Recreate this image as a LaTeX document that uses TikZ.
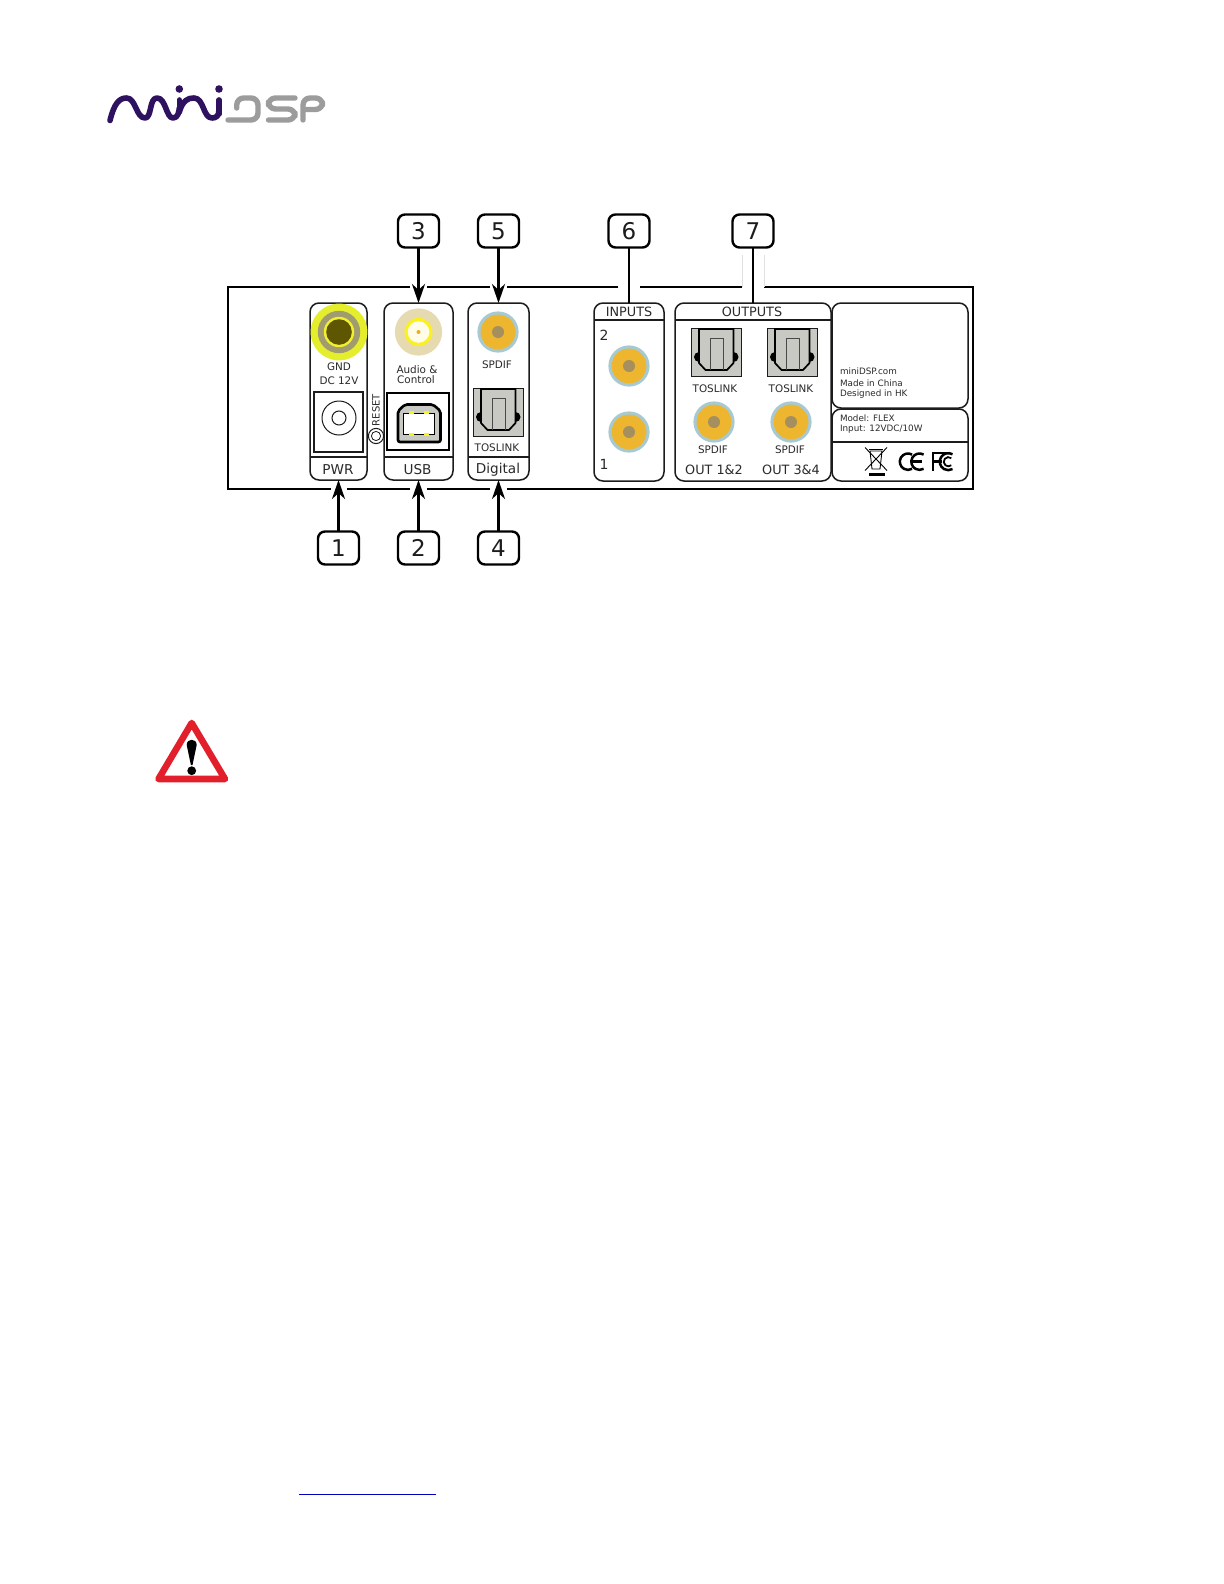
\documentclass[tikz,border=0pt]{standalone}
\usepackage{fontspec}
\setmainfont{DejaVu Sans}
\usetikzlibrary{arrows.meta}
\definecolor{ink}{HTML}{1C1C1C}
\definecolor{labelink}{HTML}{2A2A2A}
\definecolor{jackblue}{HTML}{A6C9D2}
\definecolor{jackorange}{HTML}{EEB52E}
\definecolor{jackcore}{HTML}{A58F5F}
\definecolor{tosgray}{HTML}{C9C9C3}
\definecolor{logopurple}{HTML}{2E1260}
\definecolor{logogray}{HTML}{9C9C9C}
\definecolor{warnred}{HTML}{E2202C}
\definecolor{gndlime}{HTML}{E4EE2C}
\definecolor{gndgray}{HTML}{A19C70}
\definecolor{gndring}{HTML}{F0F030}
\definecolor{gnddark}{HTML}{5E5600}
\definecolor{avbeige}{HTML}{E6DAB0}
\definecolor{avyellow}{HTML}{FBF020}
\definecolor{avwhite}{HTML}{FFFDE8}
\definecolor{avdot}{HTML}{E8B020}
\tikzset{
  panel/.style={draw=ink,line width=.75pt,rounded corners=4.5pt,inner sep=0pt,outer sep=0pt},
  numbox/.style={draw=black,line width=1.2pt,rounded corners=3.5pt,fill=white,minimum width=20.5pt,minimum height=16.5pt,inner sep=0pt,outer sep=0pt,font=\fontsize{11.5}{12}\selectfont,text=ink},
  arrowline/.style={draw=black,line width=1.35pt,-{Stealth[length=9.5pt,width=6.5pt,inset=3pt]}},
  plainline/.style={draw=black,line width=1.35pt},
  frameline/.style={draw=black,line width=1.1pt},
  thinline/.style={draw=ink,line width=.7pt},
  t/.style={inner sep=0pt,outer sep=0pt,text=labelink},
  tsmall/.style={t,font=\fontsize{5.2}{6}\selectfont},
  tpanel/.style={t,font=\fontsize{6.8}{7}\selectfont},
  thead/.style={t,font=\fontsize{6.4}{7}\selectfont},
  tinfo/.style={t,anchor=west,font=\fontsize{4.4}{5}\selectfont},
  logow/.style={draw=logopurple,line width=2.8pt,line cap=round,line join=round},
  logod/.style={draw=logogray,line width=2.7pt,line cap=round,line join=round,rounded corners=3.5pt},
  marks/.style={draw=black,line width=1.25pt}
}
\newcommand{\spdifjack}[2]{%
  \fill[jackblue] (#1,#2) circle[radius=10.3pt];
  \fill[jackorange] (#1,#2) circle[radius=8.7pt];
  \fill[jackcore] (#1,#2) circle[radius=3pt];
}
\newcommand{\toslink}[2]{%
  \begin{scope}[shift={(#1,#2)}]
    \fill[tosgray] (0,0) rectangle (50,48);
    \draw[draw=ink,line width=.4pt] (0,0) rectangle (50,48);
    \fill[black] (8,29) circle[radius=2.5pt];
    \fill[black] (42.5,29) circle[radius=2.5pt];
    \draw[draw=black,line width=.85pt,fill=tosgray] (8,1) -- (8,35) -- (14.5,42) -- (36,42) -- (42.5,35) -- (42.5,1) -- cycle;
    \draw[draw=ink!80,line width=.3pt] (19,42) -- (19,10) -- (32,10) -- (32,42);
  \end{scope}
}
\begin{document}
\begin{tikzpicture}[x=.5pt,y=-.5pt]
\useasboundingbox (0,0) rectangle (1224,1584);
\fill[white] (0,0) rectangle (1224,1584);

% ---------- logo
\draw[logow] (110,120.5) .. controls (114,104) and (119,98) .. (126.5,98)
  .. controls (136,98) and (136,118) .. (145,118)
  .. controls (152,118) and (149,98) .. (157,98)
  .. controls (166,98) and (166,118) .. (173,118)
  .. controls (178,118) and (179,112) .. (179.3,108);
\draw[logow] (179.3,100) -- (179.3,112);
\draw[logow] (179.3,112) .. controls (183,100) and (188,98) .. (194,98)
  .. controls (204,98) and (203,118) .. (212,118)
  .. controls (216,118) and (219,116) .. (219,110);
\draw[logow] (219,100) -- (219,114);
\fill[logopurple] (179.3,89) circle[radius=1.9pt];
\fill[logopurple] (219,89) circle[radius=1.9pt];
\draw[logod] (236.7,108) -- (236.7,98) -- (258,98) -- (258,120) -- (228,120);
\draw[logod] (295,98) -- (268.5,98) -- (268.5,109) -- (295,109) -- (295,120) -- (268.5,120);
\draw[logod] (303,120) -- (303,98) -- (322.5,98) -- (322.5,109.5) -- (303,109.5);

% ---------- panels
\node[panel,minimum width=28.5pt,minimum height=88.5pt] (pwr) at (338.5,391.5) {};
\node[panel,minimum width=34.5pt,minimum height=88.5pt] (usb) at (418.5,391.5) {};
\node[panel,minimum width=30.5pt,minimum height=88.5pt] (dig) at (498.5,391.5) {};
\node[panel,minimum width=35pt,minimum height=89pt] (inputs) at (629,392) {};
\node[panel,minimum width=78pt,minimum height=89pt] (outputs) at (753,392) {};
\node[panel,minimum width=68pt,minimum height=52.5pt] (rating) at (900,355.5) {};
\node[panel,minimum width=68pt,minimum height=36pt] (model) at (900,445) {};

% dividers
\draw[thinline] (310,457) -- (367,457);
\draw[thinline] (384,457) -- (453,457);
\draw[thinline] (468,457) -- (529,457);
\draw[thinline] (594,320) -- (664,320);
\draw[thinline] (675,320) -- (831,320);
\draw[thinline] (832,442) -- (968,442);

% ---------- frame with gaps
\draw[frameline,line join=miter] (410,287) -- (228,287) -- (228,489) -- (331,489);
\draw[frameline] (347,489) -- (410,489);
\draw[frameline] (427,489) -- (490,489);
\draw[frameline,line join=miter] (507,489) -- (973,489) -- (973,287) -- (764,287);
\draw[frameline] (742,287) -- (640,287);
\draw[frameline] (618,287) -- (507,287);
\draw[frameline] (427,287) -- (490,287);
\draw[draw=black!12,line width=.5pt] (742,255) -- (742,287);
\draw[draw=black!12,line width=.5pt] (764,255) -- (764,287);

% ---------- PWR
\fill[gndlime] (339,332) circle[radius=14.2pt];
\fill[gndgray] (339,332) circle[radius=10.6pt];
\fill[gndring] (339,332) circle[radius=7.6pt];
\fill[gnddark] (339,332) circle[radius=6.4pt];
\node[tsmall] (gnd) at (339,367) {GND};
\node[tsmall] (dc) at (339,381) {DC 12V};
\draw[draw=ink,line width=.6pt] (314,392) rectangle (363,452);
\draw[draw=ink,line width=.5pt] (339,418) circle[radius=8.5pt];
\draw[draw=ink,line width=.5pt] (339,418) circle[radius=3.5pt];
\node[tpanel] (pwrt) at (338,470) {PWR};

% RESET
\node[t,rotate=90,font=\fontsize{5}{6}\selectfont] (reset) at (376,410) {RESET};
\draw[draw=ink,line width=.5pt,fill=white] (376,436) circle[radius=3.8pt];
\draw[draw=ink,line width=.4pt] (376,436) circle[radius=2.3pt];

% ---------- USB
\fill[avbeige] (418.5,332) circle[radius=11.8pt];
\fill[avyellow] (418.5,332) circle[radius=7pt];
\fill[avwhite] (418.5,332) circle[radius=5.4pt];
\fill[avdot] (418.5,332) circle[radius=1pt];
\node[tsmall] (audio) at (417,370) {Audio \&};
\node[tsmall] (control) at (416,380) {Control};
\draw[draw=black,line width=.8pt] (387,393) rectangle (449,450);
\draw[draw=black,line width=1.3pt,fill=tosgray,rounded corners=1pt] (398,411) -- (405,404.5) -- (433,404.5) -- (440.5,411) -- (440.5,442) -- (398,442) -- cycle;
\draw[draw=black,line width=.4pt,fill=white] (403,413) rectangle (434,434);
\foreach \px in {411,426} \foreach \py in {412,434} {
  \fill[avyellow] (\px-2.5,\py-1.5) rectangle (\px+2.5,\py+1.5);
}
\node[tpanel] (usbt) at (417.5,470) {USB};

% ---------- Digital
\spdifjack{498}{332}
\node[tsmall] (spdifa) at (497,365) {SPDIF};
\toslink{473}{388}
\node[tsmall] (tosa) at (497,448) {TOSLINK};
\node[tpanel] (digt) at (498,470) {Digital};

% ---------- Inputs
\node[thead] (inh) at (629,312) {INPUTS};
\node[t,font=\fontsize{7}{8}\selectfont] (in2) at (604,335) {2};
\node[t,font=\fontsize{7}{8}\selectfont] (in1) at (604,464) {1};
\spdifjack{629}{366}
\spdifjack{629}{432}

% ---------- Outputs
\node[thead] (outh) at (752,312) {OUTPUTS};
\toslink{691}{328}
\toslink{767}{328}
\node[tsmall] (tosb) at (715,389) {TOSLINK};
\node[tsmall] (tosc) at (791,389) {TOSLINK};
\spdifjack{714}{422}
\spdifjack{791}{422}
\node[tsmall] (spb) at (713,450) {SPDIF};
\node[tsmall] (spc) at (790,450) {SPDIF};
\node[thead] (out12) at (714,470) {OUT 1\&2};
\node[thead] (out34) at (791,470) {OUT 3\&4};

% ---------- Rating plate
\node[tinfo] (web) at (840,371) {miniDSP.com};
\node[tinfo] (made) at (840,383) {Made in China};
\node[tinfo] (desg) at (840,394.5) {Designed in HK};
\node[tinfo] (modl) at (840,418) {Model: FLEX};
\node[tinfo] (inpt) at (840,429) {Input: 12VDC/10W};

% WEEE mark
\draw[draw=black,line width=.45pt] (870,451) -- (872,469) -- (880,469) -- (882,451) -- cycle;
\draw[draw=black,line width=.45pt] (869,449) -- (883,449);
\draw[draw=black,line width=.45pt] (865,447.5) -- (887,470.5);
\draw[draw=black,line width=.45pt] (887,447.5) -- (865,470.5);
\fill[black] (869,473) rectangle (885,476);
% CE mark
\draw[marks] (912.1,454.6) arc[start angle=60,end angle=300,radius=4.1pt];
\draw[marks] (923.6,454.6) arc[start angle=60,end angle=300,radius=4.1pt];
\draw[marks] (912,461.7) -- (922,461.7);
% FC mark
\draw[marks,line join=miter] (933,471) -- (933,453) -- (947,453);
\draw[marks] (933,461.7) -- (942,461.7);
\draw[marks] (952.5,454.3) arc[start angle=60,end angle=300,radius=4.25pt];
\draw[draw=black,line width=.9pt] (951.3,458.2) arc[start angle=50,end angle=310,radius=2.3pt];

% ---------- warning triangle
\draw[draw=warnred,line width=3.3pt,line join=round,fill=white] (191.7,723) -- (158.5,779) -- (225,779) -- cycle;
\fill[black] (186.7,745) .. controls (186.7,738) and (196.7,738) .. (196.7,745) -- (192.5,765) -- (190.9,765) -- cycle;
\fill[black] (191.7,770.7) circle[radius=2.2pt];

% ---------- footnote rule
\draw[draw=blue!75!black,line width=.55pt] (299,1494.3) -- (435.7,1494.3);

% ---------- callouts
\node[numbox] (n3) at (418.5,231) {3};
\node[numbox] (n5) at (498.5,231) {5};
\node[numbox] (n6) at (629,231) {6};
\node[numbox] (n7) at (753,231) {7};
\node[numbox] (n1) at (338.5,548) {1};
\node[numbox] (n2) at (418.5,548) {2};
\node[numbox] (n4) at (498.5,548) {4};
\draw[arrowline] (n3) -- (usb);
\draw[arrowline] (n5) -- (dig);
\draw[plainline] (n6) -- (inputs);
\draw[plainline] (n7) -- (outputs);
\draw[arrowline] (n1) -- (pwr);
\draw[arrowline] (n2) -- (usb);
\draw[arrowline] (n4) -- (dig);
\end{tikzpicture}
\end{document}
